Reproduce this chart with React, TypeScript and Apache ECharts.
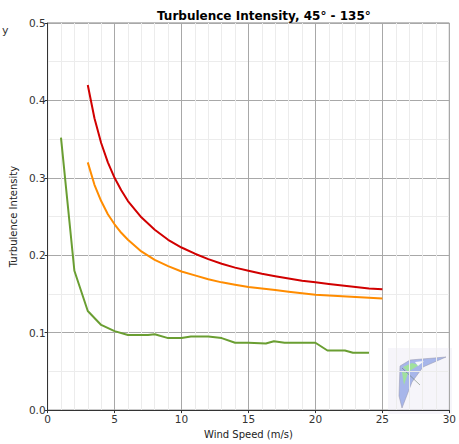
import React, { useEffect, useRef } from "react";
import * as echarts from "echarts";

const titleText = "Turbulence Intensity, 45° - 135°";
const xName = "Wind Speed (m/s)";
const yName = "Turbulence Intensity";

const redX = [3, 3.5, 4, 4.5, 5, 5.5, 6, 7, 8, 9, 10, 11, 12, 13, 14, 15, 16, 17, 18, 19, 20, 21, 22, 23, 24, 25];
const redY = [0.42, 0.377, 0.345, 0.32, 0.30, 0.284, 0.27, 0.249, 0.233, 0.22, 0.21, 0.202, 0.195, 0.189, 0.184, 0.18, 0.176, 0.173, 0.17, 0.167, 0.165, 0.163, 0.161, 0.159, 0.157, 0.156];

const orangeX = [3, 3.5, 4, 4.5, 5, 5.5, 6, 7, 8, 9, 10, 11, 12, 13, 14, 15, 16, 17, 18, 19, 20, 21, 22, 23, 24, 25];
const orangeY = [0.32, 0.291, 0.27, 0.253, 0.24, 0.229, 0.22, 0.205, 0.194, 0.186, 0.179, 0.174, 0.169, 0.165, 0.162, 0.159, 0.157, 0.155, 0.153, 0.151, 0.149, 0.148, 0.147, 0.146, 0.145, 0.144];

const greenX = [1, 2, 3, 4, 5, 6, 7, 7.5, 8, 9, 10, 10.7, 12, 13, 14, 15, 16.3, 16.9, 17.7, 19, 20, 20.9, 22.2, 22.8, 24];
const greenY = [0.352, 0.18, 0.128, 0.11, 0.102, 0.097, 0.097, 0.097, 0.098, 0.093, 0.093, 0.095, 0.095, 0.093, 0.087, 0.087, 0.086, 0.089, 0.087, 0.087, 0.087, 0.077, 0.077, 0.074, 0.074];

const xTicks = [0, 30, 5];
const yTicks = [0, 0.5, 0.1];

function pairs(xs: number[], ys: number[]) {
  return xs.map((x, i) => [x, ys[i]]);
}

export default function App() {
  const ref = useRef<HTMLDivElement>(null);
  useEffect(() => {
    if (!ref.current) return;
    const chart = echarts.init(ref.current, null, { renderer: "svg" });
    const font = "DejaVu Sans, Verdana, sans-serif";
    chart.setOption({
      animation: false,
      backgroundColor: "#ffffff",
      textStyle: { fontFamily: font },
      title: {
        text: titleText,
        left: 152,
        top: 5,
        textStyle: { fontSize: 12, fontWeight: "bold", color: "#000", fontFamily: font },
      },
      grid: {
        left: 45,
        right: 6,
        top: 23,
        bottom: 29,
        show: true,
        borderColor: "#808080",
        borderWidth: 1,
        backgroundColor: "transparent",
      },
      xAxis: {
        type: "value",
        min: xTicks[0],
        max: xTicks[1],
        interval: xTicks[2],
        name: xName,
        nameLocation: "middle",
        nameGap: 18,
        nameTextStyle: { fontSize: 10, color: "#222", fontFamily: font },
        axisLine: { show: true, lineStyle: { color: "#333", width: 1 } },
        axisTick: { show: true, length: 3, lineStyle: { color: "#333" } },
        axisLabel: { fontSize: 10.5, color: "#333", margin: 3, fontFamily: font },
        splitLine: { show: true, lineStyle: { color: "#a8a8a8", width: 1 } },
        minorTick: { show: false, splitNumber: 5 },
        minorSplitLine: { show: true, lineStyle: { color: "#ececec", width: 1 } },
      },
      yAxis: {
        type: "value",
        min: yTicks[0],
        max: yTicks[1],
        interval: yTicks[2],
        name: yName,
        nameLocation: "middle",
        nameGap: 22,
        nameTextStyle: { fontSize: 10, color: "#222", fontFamily: font },
        axisLine: { show: true, lineStyle: { color: "#333", width: 1 } },
        axisTick: { show: true, length: 3, lineStyle: { color: "#333" } },
        axisLabel: {
          fontSize: 10.5,
          color: "#333",
          margin: 2,
          fontFamily: font,
          formatter: (v: number) => v.toFixed(1),
        },
        splitLine: { show: true, lineStyle: { color: "#a8a8a8", width: 1 } },
        minorTick: { show: false, splitNumber: 2 },
        minorSplitLine: { show: true, lineStyle: { color: "#ececec", width: 1 } },
      },
      series: [
        {
          type: "line",
          data: pairs(redX, redY),
          showSymbol: false,
          lineStyle: { color: "#d10000", width: 2 },
          itemStyle: { color: "#d10000" },
        },
        {
          type: "line",
          data: pairs(orangeX, orangeY),
          showSymbol: false,
          lineStyle: { color: "#ff8c00", width: 2 },
          itemStyle: { color: "#ff8c00" },
        },
        {
          type: "line",
          data: pairs(greenX, greenY),
          showSymbol: false,
          lineStyle: { color: "#6a9e32", width: 2 },
          itemStyle: { color: "#6a9e32" },
        },
      ],
      graphic: [
        {
          type: "text",
          left: 2,
          top: 25,
          style: { text: "y", fontSize: 11, fill: "#333", fontFamily: font },
        },
        {
          type: "rect",
          shape: { x: 388, y: 348, width: 64, height: 66 },
          style: { fill: "rgba(238,236,246,0.5)" },
          silent: true,
        },
        {
          type: "polygon",
          shape: {
            points: [
              [400, 366], [410, 360], [446, 357], [423, 367], [412, 382], [402, 408], [399, 396],
            ],
          },
          style: { fill: "rgba(140,160,228,0.75)", stroke: "rgba(150,150,170,0.5)", lineWidth: 1 },
          silent: true,
        },
        {
          type: "polygon",
          shape: { points: [[403, 367], [412, 363], [419, 365], [408, 372]] },
          style: { fill: "rgba(160,230,150,0.9)" },
          silent: true,
        },
        {
          type: "polygon",
          shape: { points: [[402, 372], [408, 373], [404, 385]] },
          style: { fill: "rgba(160,230,150,0.9)" },
          silent: true,
        },
        {
          type: "polygon",
          shape: { points: [[415, 362], [424, 361], [418, 366]] },
          style: { fill: "rgba(255,255,255,0.9)" },
          silent: true,
        },
        {
          type: "line",
          shape: { x1: 402, y1: 368, x2: 420, y2: 385 },
          style: { stroke: "rgba(90,110,90,0.5)", lineWidth: 1 },
          silent: true,
        },
      ],
    });
    return () => chart.dispose();
  }, []);
  return (
    <div
      ref={ref}
      style={{ position: "absolute", left: 0, top: 0, width: 459, height: 444 }}
    />
  );
}
